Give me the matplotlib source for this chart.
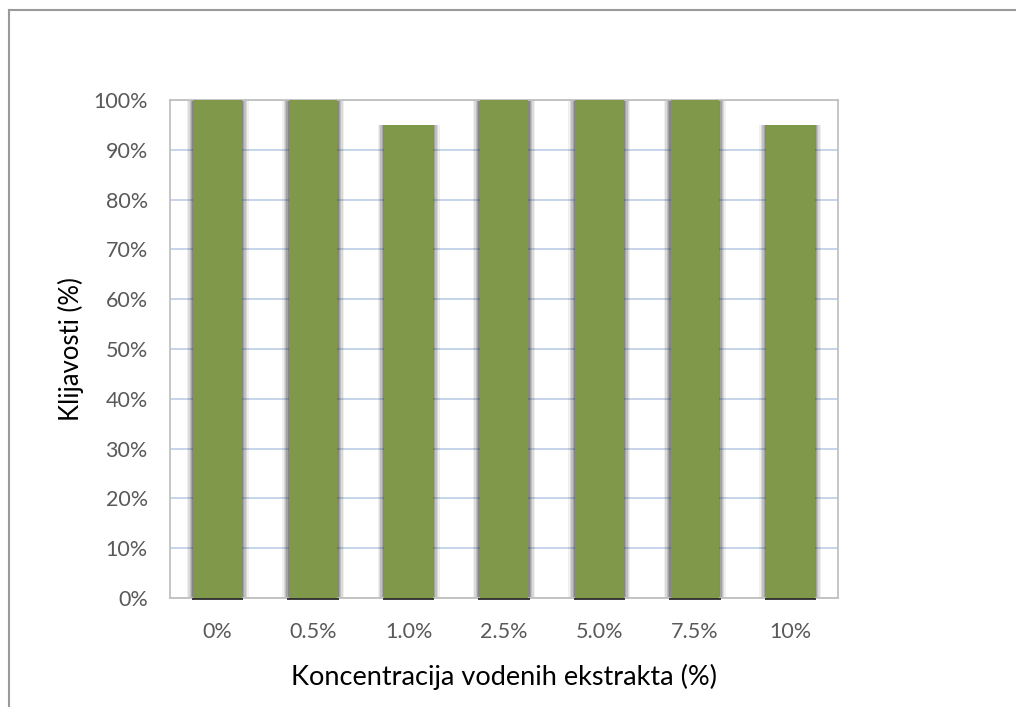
import matplotlib.pyplot as plt
from matplotlib.lines import Line2D
from matplotlib.ticker import PercentFormatter

categories = ['0%', '0.5%', '1.0%', '2.5%', '5.0%', '7.5%', '10%']
germination = [100, 100, 95, 100, 100, 100, 95]

plt.rcParams['font.family'] = ['Lato', 'DejaVu Sans']

fig = plt.figure(figsize=(10.16, 7.07), dpi=100)
ax = fig.add_axes([0.1673, 0.1542, 0.6575, 0.7044])

x = range(len(categories))
bar_w = 0.51

# soft shadow around the bars
for extra, a in [(0.14, 0.07), (0.11, 0.11), (0.08, 0.15), (0.05, 0.2), (0.025, 0.25)]:
    ax.bar(x, germination, width=bar_w + extra, color='#303030', alpha=a,
           zorder=2, linewidth=0)
# dark shadow edge under each bar
ax.bar(x, 0.5, width=bar_w + 0.03, bottom=-0.5, color='#111111', alpha=0.8,
       zorder=4, linewidth=0, clip_on=False)
ax.bar(x, germination, width=bar_w, color='#7f9849', zorder=3, linewidth=0)

ax.set_ylim(0, 100)
ax.set_xlim(-0.5, len(categories) - 0.5)
ax.set_yticks(range(0, 101, 10))
ax.yaxis.set_major_formatter(PercentFormatter(decimals=0))
ax.set_xticks(list(x))
ax.set_xticklabels(categories)

ax.yaxis.grid(True, color='#bccde7', linewidth=1.2, zorder=0)
ax.set_axisbelow(True)
for s in ax.spines.values():
    s.set_color('#c0c0c0')
    s.set_linewidth(1.3)
ax.tick_params(length=0, labelsize=15.5, colors='#595959')
ax.tick_params(axis='y', pad=16)
ax.tick_params(axis='x', pad=17)

ax.set_ylabel('Klijavosti (%)', fontsize=18.5, color='black', labelpad=7)
ax.set_xlabel('Koncentracija vodenih ekstrakta (%)', fontsize=19.5,
              color='black', labelpad=16)

# outer chart frame (cropped at right and bottom)
fig.add_artist(Line2D([9 / 1016, 1], [1 - 10 / 707, 1 - 10 / 707],
                      transform=fig.transFigure, color='#9a9a9a', linewidth=1.5))
fig.add_artist(Line2D([9 / 1016, 9 / 1016], [0, 1 - 10 / 707],
                      transform=fig.transFigure, color='#9a9a9a', linewidth=1.5))

fig.savefig('out.png', dpi=100)
